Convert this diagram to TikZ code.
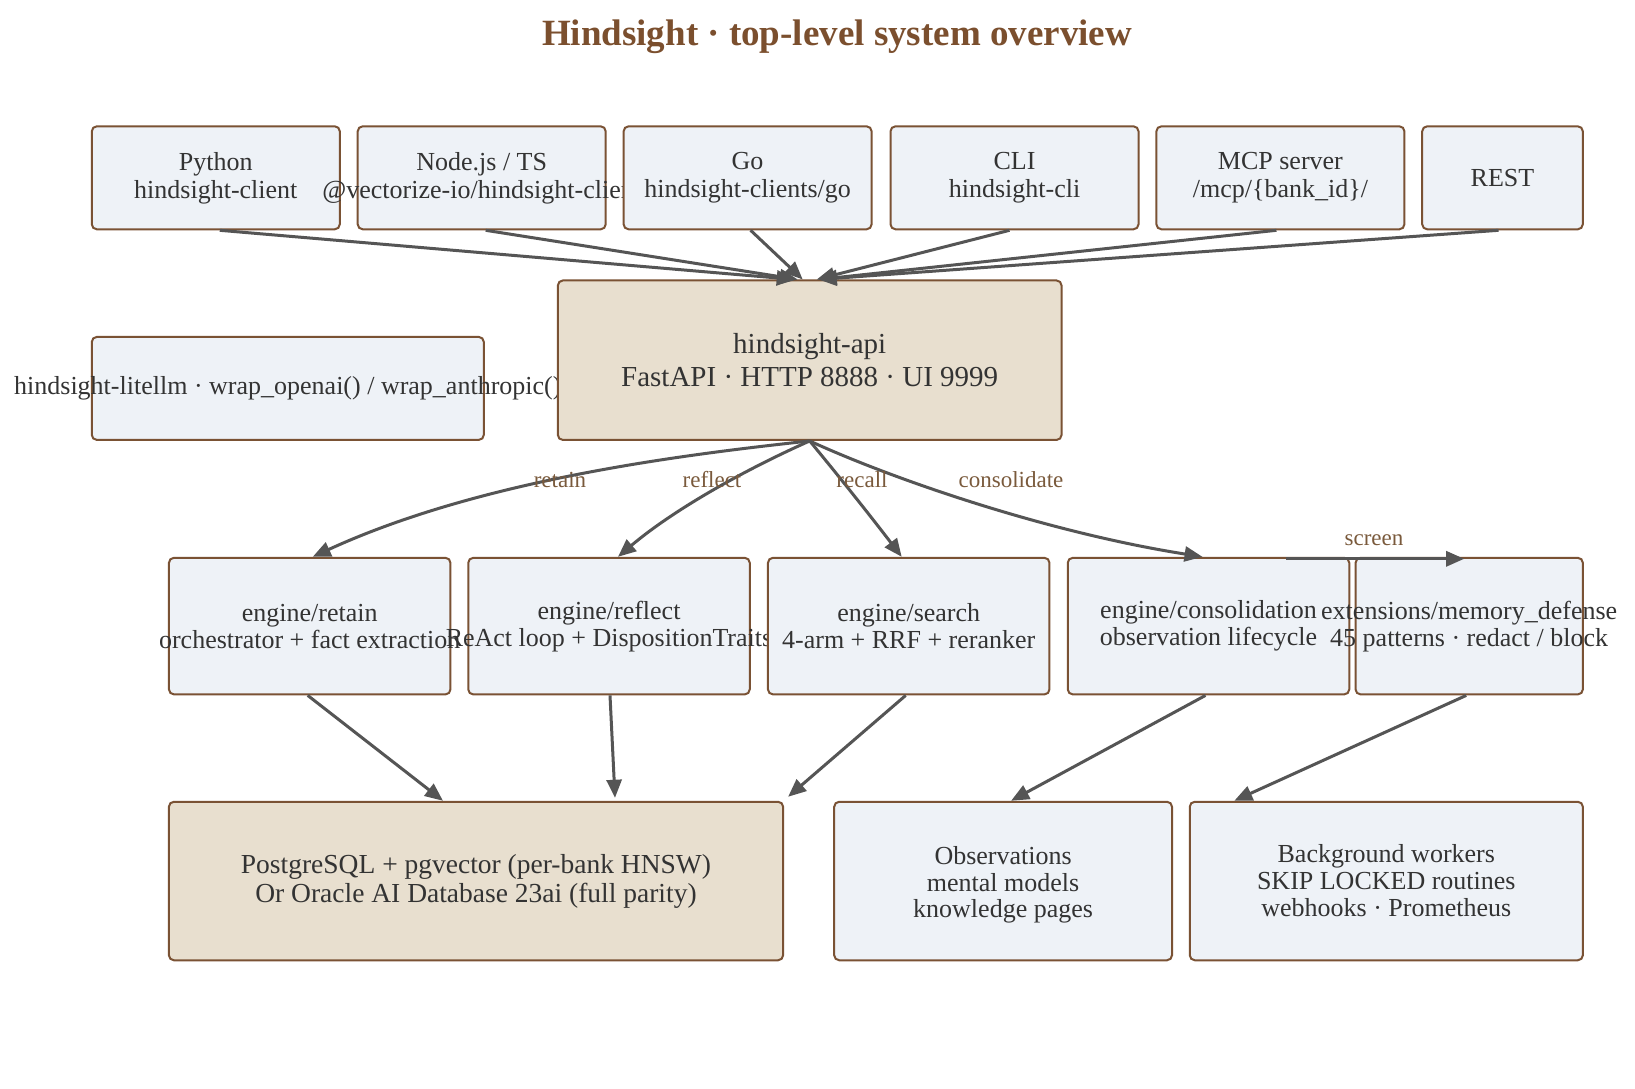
\documentclass[tikz,border=0pt]{standalone}
\usepackage{fontspec}
\setmainfont{Liberation Serif}
\usetikzlibrary{arrows.meta,calc}
\definecolor{boxfill}{HTML}{EEF2F7}
\definecolor{boxdraw}{HTML}{7A5234}
\definecolor{beige}{HTML}{E8DFCF}
\definecolor{txt}{HTML}{333333}
\definecolor{arr}{HTML}{555555}
\definecolor{lab}{HTML}{7A5A3C}
\definecolor{ttl}{HTML}{7B4F2E}
\newcommand\zl[1]{\makebox[0pt][c]{#1}}
\tikzset{
  box/.style={draw=boxdraw, line width=2pt, fill=boxfill, rounded corners=5pt,
    align=center, text=txt, font=\fontsize{26}{28}\selectfont, inner sep=0pt, anchor=center},
  bigbox/.style={box, fill=beige},
  topbox/.style={box, minimum width=248, minimum height=103},
  engbox/.style={box, minimum width=281.5, minimum height=136.6, font=\fontsize{26}{27}\selectfont},
  botbox/.style={box, minimum height=158.5, font=\fontsize{26}{27}\selectfont},
  conn/.style={draw=arr, line width=3pt, -{Triangle[length=18pt,width=15pt]}},
  lbl/.style={text=lab, font=\fontsize{23}{24}\selectfont, inner sep=0pt},
  ttlstyle/.style={text=ttl, font=\fontsize{37}{40}\selectfont\bfseries, inner sep=0pt}
}
\begin{document}
\begin{tikzpicture}[x=1pt,y=-1pt]
\useasboundingbox[fill=white] (0,0) rectangle (1635,1088);

\node[ttlstyle] (title) at (837,37) {Hindsight · top-level system overview};

% top row
\node[topbox] (py) at (215.8,177.8) {\zl{Python}\\\zl{hindsight-client}};
\node[topbox] (njs) at (481.7,177.8) {\zl{Node.js / TS}\\\zl{@vectorize-io/hindsight-client}};
\node[topbox] (go) at (747.6,177.8) {\zl{Go}\\\zl{hindsight-clients/go}};
\node[topbox] (cli) at (1014.5,177.8) {\zl{CLI}\\\zl{hindsight-cli}};
\node[topbox] (mcp) at (1280.4,177.8) {\zl{MCP server}\\\zl{/mcp/\{bank\_id\}/}};
\node[box, minimum width=160.6, minimum height=103] (rest) at (1502.5,177.8) {\zl{REST}};

% middle
\node[box, minimum width=392, minimum height=103] (lite) at (287.8,388.4) {\zl{hindsight-litellm · wrap\_openai() / wrap\_anthropic()}};
\node[bigbox, minimum width=503.7, minimum height=159.5, font=\fontsize{29}{33}\selectfont] (api) at (809.7,360.2) {\zl{hindsight-api}\\\zl{FastAPI · HTTP 8888 · UI 9999}};

% engine row
\node[engbox] (ret) at (309.7,626.1) {\zl{engine/retain}\\\zl{orchestrator + fact extraction}};
\node[engbox] (refl) at (609,626.1) {\zl{engine/reflect}\\\zl{ReAct loop + DispositionTraits}};
\node[engbox] (srch) at (908.7,626.1) {\zl{engine/search}\\\zl{4-arm + RRF + reranker}};
\node[engbox] (cons) at (1208.5,626.1) {\zl{engine/consolidation}\\\zl{observation lifecycle}};
\node[engbox, minimum width=227.3] (md) at (1469.2,626.1) {\zl{extensions/memory\_defense}\\\zl{45 patterns · redact / block}};

% bottom row
\node[botbox, fill=beige, minimum width=614.2, font=\fontsize{27.5}{29}\selectfont] (pg) at (476,881) {\zl{PostgreSQL + pgvector (per-bank HNSW)}\\\zl{Or Oracle AI Database 23ai (full parity)}};
\node[botbox, minimum width=337.8, font=\fontsize{26}{26.5}\selectfont] (obs) at (1003.1,881) {\zl{Observations}\rule{0pt}{26pt}\\\zl{mental models}\\\zl{knowledge pages}};
\node[botbox, minimum width=393.1] (bg) at (1386.3,881) {\zl{Background workers}\\\zl{SKIP LOCKED routines}\\\zl{webhooks · Prometheus}};

% clients -> api
\draw[conn] ($(py.south)+(4,0)$) -- ($(api.north)+(-15,0)$);
\draw[conn] ($(njs.south)+(4,0)$) -- ($(api.north)+(-12,0)$);
\draw[conn] ($(go.south)+(3,0)$) -- ($(api.north)+(-7,0)$);
\draw[conn] ($(cli.south)+(-5,0)$) -- ($(api.north)+(7,0)$);
\draw[conn] ($(mcp.south)+(-4,0)$) -- ($(api.north)+(9,0)$);
\draw[conn] ($(rest.south)+(-4,0)$) -- ($(api.north)+(9,0)$);

% api -> engines
\draw[conn] (api.south) .. controls (680,455) and (480,480) .. ($(ret.north)+(3,0)$);
\draw[conn] (api.south) .. controls (742,471) and (672,511) .. ($(refl.north)+(9,0)$);
\draw[conn] (api.south) .. controls (842,480) and (872,518) .. ($(srch.north)+(-7,0)$);
\draw[conn] (api.south) .. controls (890,478) and (1045,532) .. ($(cons.north)+(-6,0)$);
\node[lbl] (lret) at (560,480) {retain};
\node[lbl] (lrefl) at (712,480) {reflect};
\node[lbl] (lrec) at (862,480) {recall};
\node[lbl] (lcons) at (1011,480) {consolidate};

% screen
\draw[conn] ($(cons.north)+(77,2)$) -- ($(md.north)+(-5,2)$);
\node[lbl] (lscr) at (1374,540) {screen};

% engines -> stores
\draw[conn] ($(ret.south)+(-2,0)$) -- ($(pg.north)+(-33,0)$);
\draw[conn] ($(refl.south)+(1,0)$) -- ($(pg.north)+(139,-3)$);
\draw[conn] ($(srch.south)+(-3,0)$) -- ($(pg.north east)+(4,-4)$);
\draw[conn] ($(cons.south)+(-3,0)$) -- ($(obs.north)+(8,0)$);
\draw[conn] ($(md.south)+(-3,0)$) -- ($(bg.north)+(-152,0)$);
\end{tikzpicture}
\end{document}
